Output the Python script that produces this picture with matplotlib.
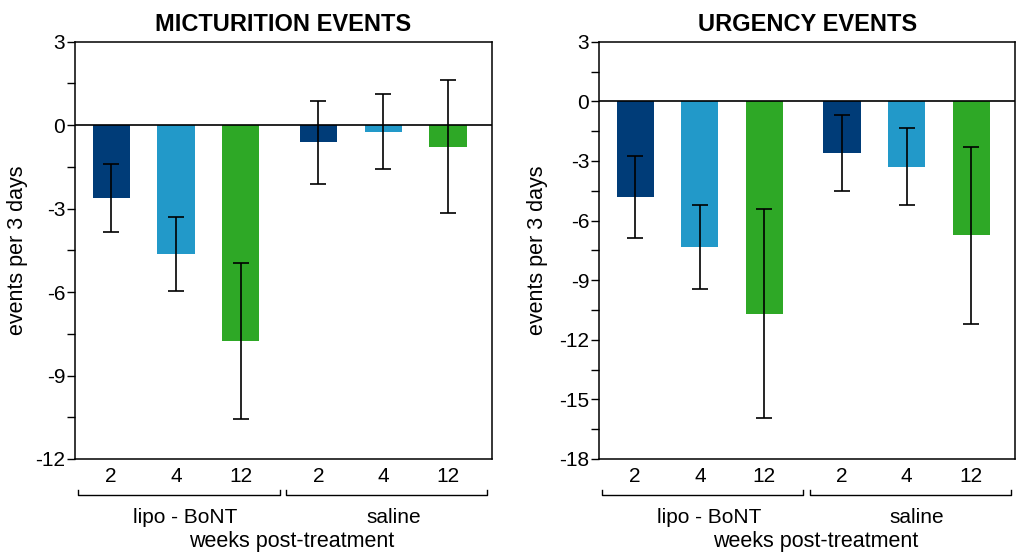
import numpy as np
import matplotlib
matplotlib.use("Agg")
import matplotlib.pyplot as plt
import matplotlib.transforms as mtransforms

plt.rcParams['font.family'] = ['Liberation Sans', 'DejaVu Sans']
plt.rcParams['axes.unicode_minus'] = False

weeks = ["2", "4", "12", "2", "4", "12"]
groups = ["lipo - BoNT", "saline"]
colors = ["#003c78", "#2299c9", "#2ea826", "#003c78", "#2299c9", "#2ea826"]

# micturition events
mict_mean = [-2.62, -4.62, -7.76, -0.62, -0.23, -0.77]
mict_err = [1.21, 1.33, 2.81, 1.50, 1.36, 2.38]

# urgency events
urg_mean = [-4.81, -7.32, -10.69, -2.60, -3.29, -6.75]
urg_err = [2.07, 2.11, 5.25, 1.92, 1.93, 4.45]

x = np.array([0, 1, 2, 3.2, 4.2, 5.2])

fig = plt.figure(figsize=(10.24, 5.59), dpi=100)
ax1 = fig.add_axes([0.0732, 0.1789, 0.4073, 0.7465])
ax2 = fig.add_axes([0.585, 0.1789, 0.4063, 0.7465])


def draw(ax, mean, err, title, ylim, ylab_x):
    ax.bar(x, mean, width=0.577, color=colors, zorder=2)
    ax.errorbar(x, mean, yerr=err, fmt="none", ecolor="black", elinewidth=1.2,
                capsize=6, capthick=1.2, zorder=3)
    ax.axhline(0, color="black", lw=1.2, zorder=4)
    ax.set_xlim(-0.56, 5.88)
    ax.set_ylim(*ylim)
    ax.set_yticks(np.arange(ylim[0], ylim[1] + 1, 3))
    ax.set_yticks(np.arange(ylim[0], ylim[1] + 0.1, 1.5), minor=True)
    ax.set_xticks(x)
    ax.set_xticklabels(weeks, fontsize=15)
    ax.tick_params(axis="x", length=0, pad=6)
    ax.tick_params(axis="y", which="both", direction="out", length=6, width=1, labelsize=15, pad=1)
    for s in ax.spines.values():
        s.set_linewidth(1.1)
    ax.set_title(title, fontsize=17, fontweight="bold", pad=8)
    ax.set_ylabel("events per 3 days", fontsize=15.5)
    ax.yaxis.set_label_coords(ylab_x, 0.5)

    # group brackets
    trans = mtransforms.blended_transform_factory(ax.transData, ax.transAxes)
    for (x0, x1), lab in zip([(-0.51, 2.6), (2.7, 5.81)], groups):
        ax.plot([x0, x0, x1, x1], [-0.074, -0.086, -0.086, -0.074], color="black",
                lw=1, transform=trans, clip_on=False)
        ax.text((x0 + x1) / 2 + 0.1, -0.14, lab, transform=trans, ha="center",
                va="center", fontsize=15)
    ax.text(0.52, -0.198, "weeks post-treatment", transform=ax.transAxes,
            ha="center", va="center", fontsize=15.5)


draw(ax1, mict_mean, mict_err, "MICTURITION EVENTS", (-12, 3), -0.113)
draw(ax2, urg_mean, urg_err, "URGENCY EVENTS", (-18, 3), -0.123)

fig.savefig("out.png", dpi=100)
